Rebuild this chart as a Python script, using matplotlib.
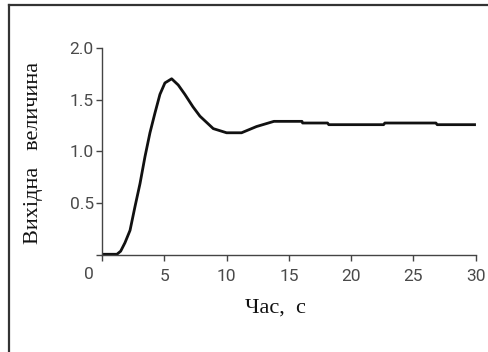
import matplotlib
matplotlib.use("Agg")
import matplotlib.pyplot as plt
from matplotlib.lines import Line2D
import matplotlib.transforms as mtransforms

t = [0, 1.2, 1.5, 1.84, 2.25, 2.65, 3.05, 3.45, 3.85, 4.25, 4.65, 5.05, 5.59,
     6.12, 6.65, 7.3, 7.86, 8.93, 10.0, 11.2, 12.4, 13.8,
     16.05, 16.1, 18.1, 18.2, 22.6, 22.7, 26.8, 26.9, 29.9]
y = [0.01, 0.01, 0.04, 0.12, 0.24, 0.47, 0.69, 0.95, 1.18, 1.37, 1.55, 1.66, 1.70,
     1.64, 1.55, 1.43, 1.34, 1.22, 1.18, 1.18, 1.24, 1.29,
     1.29, 1.274, 1.274, 1.258, 1.258, 1.274, 1.274, 1.258, 1.258]

xticks = [0, 5, 10, 15, 20, 25, 30]
xticklabels = ['', '5', '10', '15', '20', '25', '30']
yticks = [0, 0.5, 1.0, 1.5, 2.0]
yticklabels = ['', '0.5', '1.0', '1.5', '2.0']

fig = plt.figure(figsize=(4.88, 3.52), dpi=100)
ax = fig.add_axes([0.209, 0.2747, 0.766, 0.59])

ax.plot(t, y, color='#111111', lw=2.0, solid_joinstyle='round')

ax.set_xlim(0, 30)
ax.set_ylim(0, 2)
ax.set_xticks(xticks)
ax.set_xticklabels(xticklabels)
ax.set_yticks(yticks)
ax.set_yticklabels(yticklabels)

for s in ['top', 'right']:
    ax.spines[s].set_visible(False)
for s in ['left', 'bottom']:
    ax.spines[s].set_color('#444444')
    ax.spines[s].set_linewidth(1.0)

tick_font = dict(family='Roboto', size=12.5, color='#4a4a4a', weight='normal')
ax.tick_params(direction='out', length=4, width=1.0, color='#444444')
ax.tick_params(axis='x', pad=6)
ax.tick_params(axis='y', pad=2)
for lab in ax.get_xticklabels() + ax.get_yticklabels():
    lab.set_family(tick_font['family'])
    lab.set_fontsize(tick_font['size'])
    lab.set_color(tick_font['color'])
    lab.set_fontweight(tick_font['weight'])

# the "0" under the corner sits left of its tick
trans = mtransforms.blended_transform_factory(ax.transData, ax.transAxes)
ax.text(-1.05, -0.093, '0', transform=trans, ha='center', va='center',
        fontsize=tick_font['size'], color=tick_font['color'],
        family=tick_font['family'], fontweight=tick_font['weight'])

ax.set_ylabel('Вихідна   величина', family='Liberation Serif', fontsize=16,
              color='#111111')
ax.yaxis.set_label_coords(-0.158, 0.493)
ax.set_xlabel('Час,  с', family='Liberation Serif', fontsize=16,
              color='#111111')
ax.xaxis.set_label_coords(0.463, -0.21)

# frame (only left and top edges are visible)
fig.add_artist(Line2D([9 / 488, 9 / 488], [0, 1 - 5 / 352], transform=fig.transFigure,
                      color='#333333', lw=1.6))
fig.add_artist(Line2D([9 / 488, 1], [1 - 5 / 352, 1 - 5 / 352], transform=fig.transFigure,
                      color='#333333', lw=1.6))

fig.savefig('out.png', dpi=100)
